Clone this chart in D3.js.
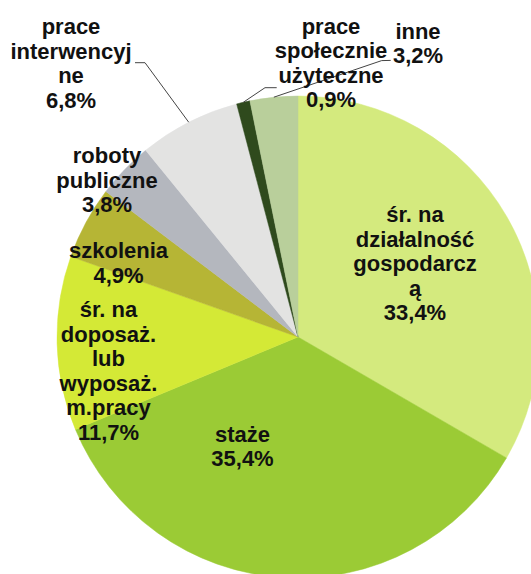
<!DOCTYPE html>
<html>
<head>
<meta charset="utf-8">
<script src="https://cdn.jsdelivr.net/npm/d3@7"></script>
<style>
  html, body { margin: 0; padding: 0; background: #fff; }
  svg { display: block; }
  text { font-family: "Liberation Sans", Arial, sans-serif; font-weight: bold; font-size: 22px; fill: #111; }
</style>
</head>
<body>
<svg id="chart" width="531" height="574"></svg>
<script>
// ---- data ----
const categories = [
  "śr. na działalność gospodarczą",
  "staże",
  "śr. na doposaż. lub wyposaż. m.pracy",
  "szkolenia",
  "roboty publiczne",
  "prace interwencyjne",
  "prace społecznie użyteczne",
  "inne"
];
const values = [33.4, 35.4, 11.7, 4.9, 3.8, 6.8, 0.9, 3.2];
const valueLabels = ["33,4%", "35,4%", "11,7%", "4,9%", "3,8%", "6,8%", "0,9%", "3,2%"];
const labelLines = [
  ["śr. na", "działalność", "gospodarcz", "ą"],
  ["staże"],
  ["śr. na", "doposaż.", "lub", "wyposaż.", "m.pracy"],
  ["szkolenia"],
  ["roboty", "publiczne"],
  ["prace", "interwencyj", "ne"],
  ["prace", "społecznie", "użyteczne"],
  ["inne"]
];
const colors = ["#d4ea7e", "#9bcb35", "#d4e936", "#b6b535", "#b4b7be", "#e3e3e2", "#2f4a1d", "#b9cf9b"];

// ---- layout (positions relative to svg) ----
const cx = 298, cy = 337, R = 241;
const lineH = 24.5;
// label anchor: center x, first baseline y
const labelPos = [
  [415, 222], [242.5, 441.5], [108.5, 317], [118.5, 258],
  [107, 163], [71, 34], [331, 33.5], [418, 38.5]
];
// leader lines: [elbow, end] for labels outside the pie (null = none)
const leaders = [null, null, null, null, null,
  [[145, 62.7], [135, 62.7]],
  [[265, 87.7], [276.7, 87.7]],
  [[381.7, 60.6], [390.7, 60.4]]
];

const svg = d3.select("#chart");
const g = svg.append("g").attr("transform", `translate(${cx},${cy})`);

const pie = d3.pie().sort(null).value(d => d.v);
const data = categories.map((c, i) => ({ c, v: values[i], i }));
const arcs = pie(data);
const arc = d3.arc().innerRadius(0).outerRadius(R);

g.selectAll("path.slice")
  .data(arcs)
  .join("path")
  .attr("class", "slice")
  .attr("d", arc)
  .attr("fill", d => colors[d.data.i])
  .attr("stroke", d => colors[d.data.i])
  .attr("stroke-width", 0.5);

// leader lines
const edge = d3.arc().innerRadius(R).outerRadius(R);
arcs.forEach(d => {
  const L = leaders[d.data.i];
  if (!L) return;
  const p = edge.centroid(d);
  const pts = [[p[0] + cx, p[1] + cy], L[0], L[1]];
  svg.append("path")
    .attr("d", d3.line()(pts))
    .attr("fill", "none")
    .attr("stroke", "#444")
    .attr("stroke-width", 1);
});

// labels
arcs.forEach(d => {
  const i = d.data.i;
  const lines = labelLines[i].concat([valueLabels[i]]);
  const t = svg.append("text")
    .attr("text-anchor", "middle")
    .attr("x", labelPos[i][0])
    .attr("y", labelPos[i][1]);
  lines.forEach((s, k) => {
    t.append("tspan")
      .attr("x", labelPos[i][0])
      .attr("dy", k === 0 ? 0 : lineH)
      .text(s);
  });
});
</script>
</body>
</html>
